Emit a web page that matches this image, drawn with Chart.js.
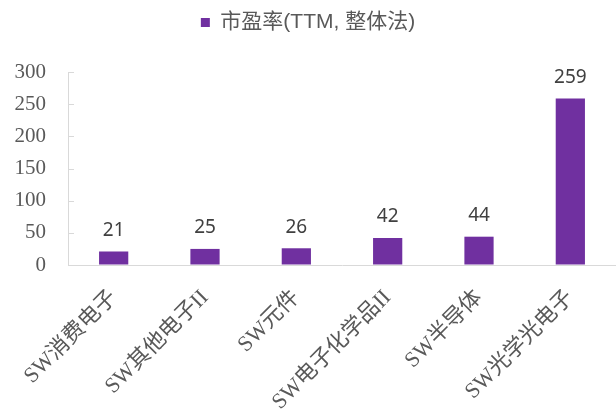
<!DOCTYPE html>
<html>
<head>
<meta charset="utf-8">
<script src="https://cdn.jsdelivr.net/npm/chart.js@4"></script>
<style>
  html, body { margin: 0; padding: 0; background: #fff; }
  #wrap { width: 616px; height: 414px; }
</style>
</head>
<body>
<div id="wrap"><canvas id="peChart" width="616" height="414"></canvas></div>
<script>
const categories = ["SW消费电子", "SW其他电子II", "SW元件", "SW电子化学品II", "SW半导体", "SW光学光电子"];
const peValues = [21, 25, 26, 42, 44, 259];
const seriesName = "市盈率(TTM, 整体法)";
const yTicks = [0, 50, 100, 150, 200, 250, 300];

const purple = "#7030A0";
const axisGrey = "#d9d9d9";

// value labels above each bar
const barLabels = {
  id: "barLabels",
  afterDatasetsDraw(chart) {
    const ctx = chart.ctx;
    const meta = chart.getDatasetMeta(0);
    ctx.save();
    ctx.font = "19px 'Noto Sans', sans-serif";
    ctx.fillStyle = "#404040";
    ctx.textAlign = "center";
    ctx.textBaseline = "middle";
    meta.data.forEach((bar, i) => {
      ctx.fillText(peValues[i], bar.x, bar.y - 21);
    });
    ctx.restore();
  },
};

// small tick marks on the inside of the y axis
const yTickMarks = {
  id: "yTickMarks",
  afterDraw(chart) {
    const ctx = chart.ctx;
    const y = chart.scales.y;
    ctx.save();
    ctx.strokeStyle = axisGrey;
    ctx.lineWidth = 1;
    yTicks.forEach((v) => {
      const py = Math.round(y.getPixelForValue(v)) + 0.5;
      ctx.beginPath();
      ctx.moveTo(y.right, py);
      ctx.lineTo(y.right + 6, py);
      ctx.stroke();
    });
    ctx.restore();
  },
};

// extra room under the legend
const legendSpacer = {
  id: "legendSpacer",
  beforeInit(chart) {
    const fit = chart.legend.fit;
    chart.legend.fit = function () {
      fit.call(this);
      this.height += 29;
    };
  },
};

new Chart(document.getElementById("peChart"), {
  type: "bar",
  data: {
    labels: categories,
    datasets: [
      {
        label: seriesName,
        data: peValues,
        backgroundColor: purple,
        borderWidth: 0,
        categoryPercentage: 1,
        barPercentage: 0.32,
      },
    ],
  },
  options: {
    responsive: false,
    animation: false,
    layout: { padding: { top: 2, right: 0, left: 0, bottom: 0 } },
    plugins: {
      legend: {
        position: "top",
        labels: {
          boxWidth: 9,
          boxHeight: 9,
          color: "#595959",
          font: { size: 21, family: "'Liberation Sans', 'Noto Sans CJK SC', sans-serif" },
          padding: 10,
        },
      },
      tooltip: { enabled: false },
    },
    scales: {
      x: {
        afterFit(scale) {
          scale.height = 149;
        },
        grid: { display: true, drawOnChartArea: false, drawTicks: false },
        border: { color: axisGrey, width: 1 },
        ticks: {
          color: "#595959",
          maxRotation: 45,
          minRotation: 45,
          padding: 20,
          font: { size: 22, family: "'Liberation Serif', 'Noto Sans CJK SC', serif" },
        },
      },
      y: {
        min: 0,
        max: 300,
        afterFit(scale) {
          scale.width = 68;
        },
        grid: { drawOnChartArea: false, drawTicks: false },
        border: { color: axisGrey, width: 1 },
        ticks: {
          stepSize: 50,
          color: "#595959",
          padding: 22,
          font: { size: 21, family: "'Liberation Serif', serif" },
        },
      },
    },
  },
  plugins: [barLabels, yTickMarks, legendSpacer],
});
</script>
</body>
</html>
